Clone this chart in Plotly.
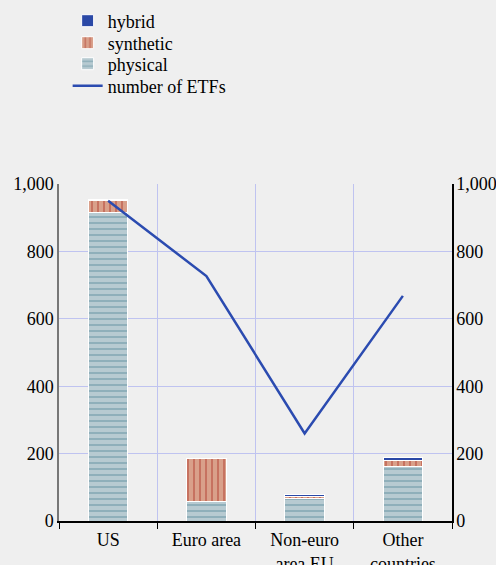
import plotly.graph_objects as go

categories = ["US", "Euro area", "Non-euro<br>area EU", "Other<br>countries"]
physical = [915, 57, 68, 163]
synthetic = [35, 127, 5, 18]
hybrid = [5, 2, 7, 6]
num_etfs = [950, 727, 260, 668]
yticks = [0, 200, 400, 600, 800, 1000]
yticklabels = ["0", "200", "400", "600", "800", "1,000"]

FAM = "Liberation Serif, Times New Roman, serif"
font = dict(family=FAM, size=18, color="black")
GRID = "#bfc3f0"
fig = go.Figure()
fig.add_trace(go.Bar(
    x=categories, y=physical, name="physical", legend="legend3",
    marker=dict(color="#b7cad1", line=dict(color="white", width=1),
                pattern=dict(shape="-", fgcolor="#5f8d9e", bgcolor="#b7cad1", size=6, solidity=0.3)),
    width=0.4))
fig.add_trace(go.Bar(
    x=categories, y=synthetic, name="synthetic", legend="legend2",
    marker=dict(color="#d9a08a", line=dict(color="white", width=1),
                pattern=dict(shape="|", fgcolor="#b0392b", bgcolor="#d9a08a", size=6, solidity=0.3)),
    width=0.4))
fig.add_trace(go.Bar(
    x=categories, y=hybrid, name="hybrid", legend="legend",
    marker=dict(color="#2a48a6", line=dict(color="white", width=1)),
    width=0.4))
fig.add_trace(go.Scatter(
    x=categories, y=num_etfs, name="number of ETFs", legend="legend4", mode="lines",
    line=dict(color="#2b4bb0", width=2.5), yaxis="y2"))

def leg(ypix):
    return dict(x=0.022, y=(521 - ypix) / 337, xanchor="left", yanchor="middle",
                bgcolor="rgba(0,0,0,0)", font=font, tracegroupgap=0)

fig.update_layout(
    width=496, height=565,
    barmode="stack",
    paper_bgcolor="#efefef", plot_bgcolor="#efefef",
    font=font,
    margin=dict(l=59, r=44, t=184, b=44, autoexpand=False),
    showlegend=True,
    legend=leg(21), legend2=leg(43), legend3=leg(64), legend4=leg(86),
    xaxis=dict(tickson="boundaries", showgrid=True, gridcolor=GRID, gridwidth=1,
               showline=True, linecolor="black", linewidth=1.5, ticks="outside", ticklen=6,
               tickcolor="black", tickfont=font, tickangle=0, automargin=False, ticklabelstandoff=2),
    yaxis=dict(range=[0, 1000], tickvals=yticks, ticktext=yticklabels, showgrid=True,
               gridcolor=GRID, gridwidth=1, showline=True, linecolor="#777777", linewidth=1.5,
               ticks="", zeroline=False, tickfont=font, automargin=False),
    yaxis2=dict(range=[0, 1000], tickvals=yticks, ticktext=yticklabels, overlaying="y", side="right",
                showgrid=False, showline=True, linecolor="black", linewidth=1.5, ticks="", zeroline=False,
                tickfont=font, automargin=False, ticklabelstandoff=-1),
)
fig.write_html("out.html", config={"displayModeBar": False},
               post_script="document.body.style.margin='0';document.body.style.background='#efefef';")
